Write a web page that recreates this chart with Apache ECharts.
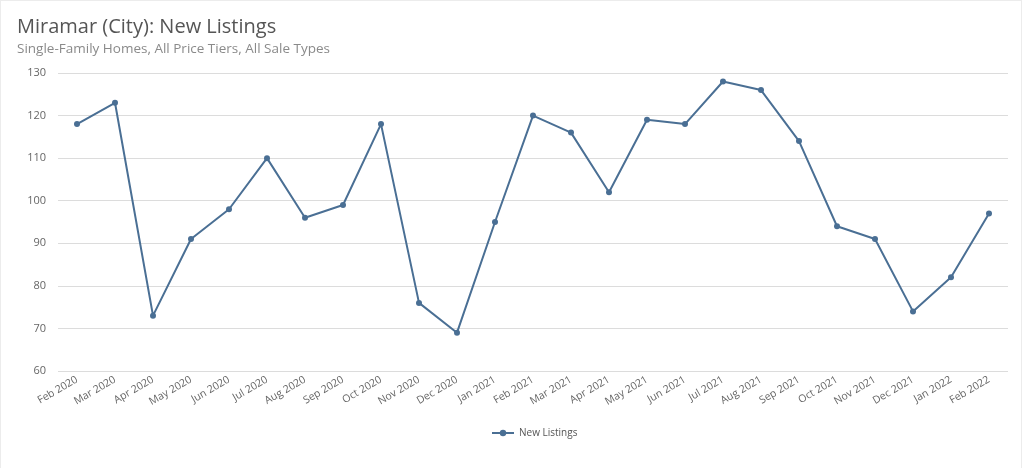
<!DOCTYPE html>
<html>
<head>
<meta charset="utf-8">
<script src="https://cdn.jsdelivr.net/npm/echarts@6/dist/echarts.min.js"></script>
<style>
html,body{margin:0;padding:0;background:#fff;}
#frame{position:absolute;left:0;top:0;width:1020px;height:467px;border:1px solid #ececec;border-bottom:none;}
#chart{position:absolute;left:0;top:0;width:1024px;height:469px;}
</style>
</head>
<body>
<div id="frame"></div>
<div id="chart"></div>
<script>
var categories = ["Feb 2020","Mar 2020","Apr 2020","May 2020","Jun 2020","Jul 2020","Aug 2020","Sep 2020","Oct 2020","Nov 2020","Dec 2020","Jan 2021","Feb 2021","Mar 2021","Apr 2021","May 2021","Jun 2021","Jul 2021","Aug 2021","Sep 2021","Oct 2021","Nov 2021","Dec 2021","Jan 2022","Feb 2022"];
var newListings = [118,123,73,91,98,110,96,99,118,76,69,95,120,116,102,119,118,128,126,114,94,91,74,82,97];
var yTicks = {min:60, max:130, interval:10};
var titleText = "Miramar (City): New Listings";
var subtitleText = "Single-Family Homes, All Price Tiers, All Sale Types";
var seriesName = "New Listings";

var font = "'Open Sans', 'Noto Sans', sans-serif";
var chart = echarts.init(document.getElementById('chart'), null, {renderer:'canvas'});
chart.setOption({
  backgroundColor: 'transparent',
  animation: false,
  title: {
    text: titleText,
    subtext: subtitleText,
    left: 12,
    top: 12,
    itemGap: 5,
    textStyle: {fontFamily: font, fontSize: 20, fontWeight: 'normal', color: '#555'},
    subtextStyle: {fontFamily: font, fontSize: 13.5, color: '#8a8a8a'}
  },
  legend: {
    bottom: 26,
    left: 486,
    itemWidth: 22,
    itemHeight: 8,
    textStyle: {fontFamily: font, fontSize: 10, color: '#555'},
    data: [seriesName]
  },
  grid: {left: 58, right: 16, top: 73, bottom: 98, containLabel: false},
  xAxis: {
    type: 'category',
    data: categories,
    boundaryGap: true,
    axisLine: {show: false},
    axisTick: {show: false},
    axisLabel: {rotate: 30, fontFamily: font, fontSize: 10.5, color: '#666', margin: 8, interval: 0}
  },
  yAxis: {
    type: 'value',
    min: yTicks.min, max: yTicks.max, interval: yTicks.interval,
    axisLine: {show: false},
    axisTick: {show: false},
    axisLabel: {fontFamily: font, fontSize: 11, color: '#666', margin: 12},
    splitLine: {lineStyle: {color: '#dcdcdc', width: 1}}
  },
  series: [{
    name: seriesName,
    type: 'line',
    data: newListings,
    symbol: 'circle',
    symbolSize: 6,
    color: '#4a6f94',
    lineStyle: {width: 2, color: '#4a6f94'},
    itemStyle: {color: '#4a6f94'}
  }]
});
</script>
</body>
</html>
